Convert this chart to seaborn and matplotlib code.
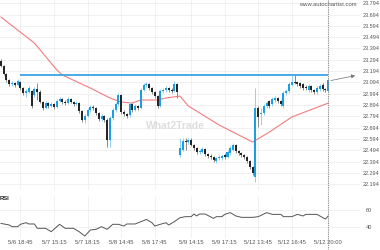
import numpy as np
import pandas as pd
import matplotlib
matplotlib.use("Agg")
import matplotlib.pyplot as plt
import matplotlib.transforms as mtransforms
from matplotlib.lines import Line2D
import seaborn as sns

# ---------------- data ----------------
opens = [23.283, 23.239, 23.168, 23.115, 23.080, 23.088, 23.071, 23.097, 23.044, 23.000,
         23.009, 23.018, 22.982, 23.035, 23.009, 22.920, 22.867, 22.911, 22.885, 22.903,
         22.876, 22.929, 22.947, 22.920, 22.911, 22.947, 22.920, 22.903, 22.911, 22.841,
         22.761, 22.796, 22.850, 22.876, 22.867, 22.823, 22.770, 22.796, 22.761, 22.584,
         22.779, 22.850, 22.903, 22.982, 22.832, 22.814, 22.805, 22.903, 22.850, 22.885,
         22.867, 23.027, 23.071, 23.080, 23.044, 23.009, 22.973, 22.885, 23.018, 23.027,
         23.044, 23.027, 23.018, 23.080, 22.451, 22.496, 22.575, 22.566, 22.584, 22.540,
         22.513, 22.478, 22.478, 22.504, 22.460, 22.442, 22.434, 22.398, 22.425, 22.425,
         22.451, 22.434, 22.469, 22.496, 22.540, 22.487, 22.469, 22.451, 22.434, 22.398,
         22.345, 22.257, 22.867, 22.814, 22.823, 22.885, 22.929, 22.903, 22.938, 22.956,
         22.929, 22.885, 23.000, 23.018, 23.071, 23.097, 23.097, 23.088, 23.080, 23.053,
         23.027, 23.062, 23.027, 23.009, 23.035, 23.071, 23.035, 23.018]
closes = [23.239, 23.168, 23.115, 23.080, 23.088, 23.071, 23.106, 23.044, 23.000, 23.018,
          23.044, 22.885, 23.035, 23.009, 22.920, 22.867, 22.911, 22.885, 22.903, 22.876,
          22.929, 22.947, 22.920, 22.911, 22.947, 22.920, 22.903, 22.911, 22.841, 22.761,
          22.796, 22.850, 22.876, 22.867, 22.823, 22.770, 22.796, 22.761, 22.584, 22.779,
          22.850, 22.903, 22.982, 22.832, 22.814, 22.796, 22.903, 22.850, 22.885, 22.867,
          23.027, 23.071, 23.080, 23.044, 23.009, 22.973, 22.885, 23.018, 23.027, 23.044,
          23.027, 23.018, 23.080, 23.009, 22.513, 22.575, 22.566, 22.584, 22.540, 22.513,
          22.478, 22.487, 22.504, 22.460, 22.442, 22.434, 22.407, 22.425, 22.434, 22.442,
          22.434, 22.478, 22.513, 22.540, 22.487, 22.469, 22.451, 22.434, 22.398, 22.345,
          22.292, 22.867, 22.788, 22.823, 22.885, 22.911, 22.885, 22.947, 22.956, 22.929,
          22.903, 23.000, 23.018, 23.080, 23.097, 23.088, 23.080, 23.062, 23.044, 23.044,
          23.062, 23.027, 23.009, 23.044, 23.062, 23.035, 23.027, 23.115]
highs = [23.301, 23.248, 23.177, 23.124, 23.106, 23.097, 23.124, 23.106, 23.053, 23.035,
         23.062, 23.027, 23.053, 23.088, 23.027, 22.929, 22.929, 22.920, 22.920, 22.911,
         22.947, 22.965, 22.956, 22.938, 22.965, 22.956, 22.929, 22.929, 22.920, 22.850,
         22.814, 22.867, 22.894, 22.894, 22.876, 22.832, 22.814, 22.805, 22.779, 22.796,
         22.867, 22.920, 23.000, 22.991, 22.850, 22.823, 22.920, 22.911, 22.903, 22.894,
         23.044, 23.088, 23.097, 23.088, 23.053, 23.018, 22.982, 23.035, 23.044, 23.062,
         23.053, 23.044, 23.106, 23.088, 22.602, 22.602, 22.602, 22.602, 22.602, 22.549,
         22.522, 22.504, 22.522, 22.513, 22.469, 22.460, 22.442, 22.434, 22.451, 22.460,
         22.469, 22.496, 22.531, 22.558, 22.549, 22.496, 22.478, 22.460, 22.442, 22.407,
         22.354, 23.044, 22.885, 22.867, 22.903, 22.929, 22.938, 22.965, 22.973, 22.965,
         22.938, 23.018, 23.035, 23.097, 23.159, 23.159, 23.106, 23.097, 23.088, 23.071,
         23.080, 23.071, 23.035, 23.062, 23.080, 23.088, 23.044, 23.133]
lows = [23.230, 23.159, 23.097, 23.062, 23.062, 23.053, 23.062, 23.027, 22.982, 22.965,
        23.000, 22.867, 22.965, 22.938, 22.911, 22.850, 22.858, 22.867, 22.876, 22.858,
        22.867, 22.920, 22.903, 22.894, 22.903, 22.911, 22.885, 22.894, 22.823, 22.743,
        22.734, 22.788, 22.832, 22.850, 22.805, 22.752, 22.752, 22.743, 22.522, 22.522,
        22.761, 22.832, 22.885, 22.814, 22.796, 22.779, 22.788, 22.832, 22.841, 22.850,
        22.858, 23.018, 23.053, 23.027, 22.991, 22.956, 22.867, 22.876, 23.000, 23.009,
        23.009, 23.000, 23.009, 22.956, 22.434, 22.487, 22.496, 22.549, 22.531, 22.496,
        22.460, 22.460, 22.469, 22.442, 22.425, 22.416, 22.389, 22.380, 22.407, 22.407,
        22.416, 22.425, 22.451, 22.487, 22.469, 22.451, 22.434, 22.416, 22.380, 22.327,
        22.274, 22.212, 22.699, 22.717, 22.805, 22.867, 22.867, 22.885, 22.920, 22.911,
        22.885, 22.867, 22.982, 23.000, 23.062, 23.080, 23.062, 23.044, 23.027, 23.027,
        23.009, 23.009, 22.991, 22.991, 23.018, 23.018, 23.009, 23.009]

ma_idx = [0, 12, 20, 22, 32, 39, 43, 47, 50, 56, 59, 64, 67, 78, 90, 96, 104, 117]
ma_val = [23.673, 23.442, 23.204, 23.159, 23.044, 22.956, 22.920, 22.911, 22.938, 22.938,
          22.956, 22.973, 22.885, 22.717, 22.566, 22.655, 22.788, 22.911]

rsi_idx = [0, 3, 4, 6, 7, 9, 10, 12, 13, 16, 18, 21, 23, 26, 28, 30, 32, 34, 36, 38,
           40, 42, 44, 45, 48, 51, 52, 54, 55, 57, 59, 60, 62, 64, 66, 68, 69, 70, 71, 73,
           76, 77, 79, 80, 82, 84, 86, 90, 92, 95, 97, 100, 101, 104, 106, 108, 109, 113,
           114, 116, 117]
rsi_val = [44.3, 42.4, 40.4, 40.4, 43.2, 45.1, 43.6, 43.6, 38.5, 38.5, 34.5, 43.2, 38.5,
           38.5, 34.5, 29.4, 36.5, 37.3, 40.4, 37.3, 43.2, 43.2, 41.2, 43.6, 43.6, 47.5,
           49.0, 45.1, 41.2, 43.2, 45.1, 42.4, 46.3, 51.0, 52.2, 52.2, 55.3, 53.0, 55.3,
           55.3, 50.2, 52.2, 52.2, 54.9, 56.9, 53.0, 51.4, 51.4, 52.2, 56.9, 54.9, 54.9,
           52.2, 52.2, 54.9, 53.0, 54.9, 54.9, 53.0, 49.4, 53.0]

tick_idx = [7, 19, 31, 43, 55, 68, 80, 92, 104, 117]
tick_labels = ["5/6 18:45", "5/7 15:15", "5/7 18:15", "5/8 14:45", "5/8 17:45",
               "5/9 14:15", "5/9 17:15", "5/12 13:45", "5/12 16:45", "5/12 20:00"]
price_ticks = [22.194, 22.294, 22.394, 22.494, 22.594, 22.694, 22.794, 22.894, 22.994,
               23.094, 23.194, 23.294, 23.394, 23.494, 23.594, 23.694, 23.794]
rsi_ticks = [40, 60]
level_price = 23.159
level_start = 7
level_end = 117
arrow_end_idx = 127.6

# ---------------- styling ----------------
sns.set_theme(style="white")
plt.rcParams['font.family'] = ['Liberation Sans', 'DejaVu Sans']

UP = '#1d9de3'
UP_WICK = '#8fd0f3'
DOWN = '#262626'
DOWN_WICK = '#8a8a8a'
GRID = '#ececec'
TXT = '#555555'

fig = plt.figure(figsize=(3.8, 2.5), dpi=100)
fig.patch.set_facecolor('white')
ax = fig.add_axes([0.0, 0.24, 0.947, 0.76])
axr = fig.add_axes([0.0, 0.048, 0.947, 0.168], sharex=ax)

df = pd.DataFrame({'i': np.arange(len(opens)), 'o': opens, 'c': closes,
                   'h': highs, 'l': lows})
df['up'] = df['c'] >= df['o']

# wicks
ax.vlines(df['i'], df['l'], df['h'],
          colors=np.where(df['up'], UP_WICK, DOWN_WICK), lw=0.7, zorder=3)
# bodies
body_h = np.maximum((df['c'] - df['o']).abs(), 0.004)
ax.bar(df['i'], body_h, bottom=np.minimum(df['o'], df['c']), width=0.72,
       color=np.where(df['up'], UP, DOWN), linewidth=0, zorder=4)

# moving average
sns.lineplot(x=ma_idx, y=ma_val, ax=ax, color='#f47c7c', lw=0.8, zorder=2)

# level line + arrow
ax.plot([level_start, level_end], [level_price, level_price], color='#3ba4e4',
        lw=1.3, zorder=5, solid_capstyle='butt')
ax.annotate('', xy=(arrow_end_idx, level_price), xytext=(level_end, closes[-1] - 0.009),
            arrowprops=dict(arrowstyle='-|>', color='#777777', lw=0.6,
                            mutation_scale=5, linestyle=(0, (2, 1))), zorder=6)

# watermark
ax.text(62.4, 22.708, 'What2Trade', ha='center', va='center', fontsize=7.5,
        fontweight='bold', color='#dedede', zorder=1)

# axes formatting – price
ax.set_xlim(-0.3, 128.3)
ax.set_ylim(22.142, 23.823)
ax.yaxis.tick_right()
ax.set_yticks(price_ticks)
ax.set_yticklabels([f"{v:.3f}" for v in price_ticks])
ax.set_xticks(tick_idx)
ax.tick_params(axis='y', labelsize=4, colors=TXT, length=0, pad=2)
ax.tick_params(axis='x', labelbottom=False, length=0)
ax.grid(True, color=GRID, lw=0.5, zorder=0)
ax.set_axisbelow(True)
for s in ax.spines.values():
    s.set_visible(False)
ax.set_xlabel('')
ax.set_ylabel('')

# RSI panel
sns.lineplot(x=rsi_idx, y=rsi_val, ax=axr, color='#555555', lw=0.7)
axr.set_ylim(27.1, 76.5)
axr.yaxis.tick_right()
axr.set_yticks(rsi_ticks)
axr.set_yticklabels([str(v) for v in rsi_ticks])
axr.set_xticks(tick_idx)
axr.set_xticklabels(tick_labels)
axr.tick_params(axis='y', labelsize=4, colors=TXT, length=0, pad=4)
axr.tick_params(axis='x', labelsize=4.2, colors=TXT, length=0, pad=1.5)
axr.grid(True, color=GRID, lw=0.5, zorder=0)
axr.set_axisbelow(True)
for s in axr.spines.values():
    s.set_visible(False)
axr.set_xlabel('')
axr.set_ylabel('')

# vertical dotted line at the last candle through the whole figure
trans = mtransforms.blended_transform_factory(ax.transData, fig.transFigure)
fig.add_artist(Line2D([level_end, level_end], [0.0, 1.0], transform=trans,
                      color='#8c8c8c', lw=0.8, linestyle=(0, (1, 1)), zorder=7))

fig.text(0.939, 0.98, 'www.autochartist.com', ha='right', va='center',
         fontsize=4.2, color=TXT)
fig.text(0.0, 0.206, 'RSI', ha='left', va='center', fontsize=4.2,
         fontweight='bold', color='#222222')

fig.savefig('out.png', dpi=100, facecolor='white')
